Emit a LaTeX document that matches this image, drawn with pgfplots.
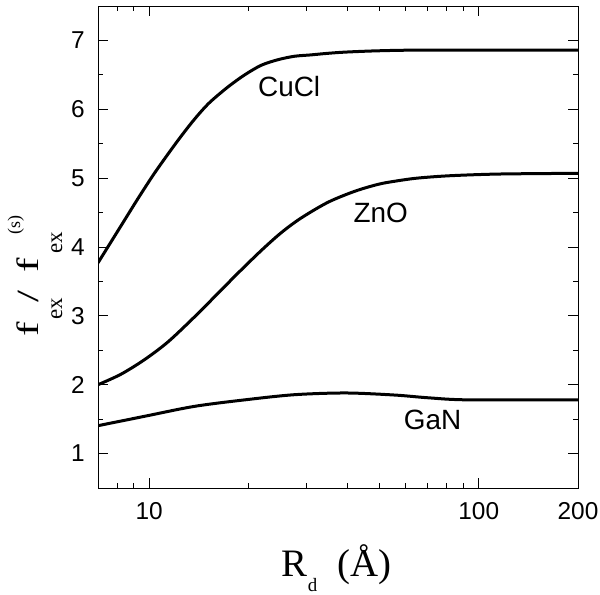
\documentclass[border=0pt]{standalone}
\usepackage{fontspec}
\setmainfont{Liberation Sans}
\newfontfamily\serif{Liberation Serif}
\usepackage{graphicx}
\usepackage{pgfplots}
\pgfplotsset{compat=1.18}

% y label, built piece by piece (Origin-style offsets)
\newcommand{\ylab}{\serif\fontsize{31}{31}\selectfont
\makebox[17bp][l]{\scalebox{1.4}[1]{f}}%
\makebox[17bp][l]{\raisebox{-24bp}{\fontsize{23}{23}\selectfont ex}}%
\makebox[30bp][l]{\scalebox{1.4}[1]{/}}%
\makebox[19bp][l]{\scalebox{1.4}[1]{f}}%
\makebox[19bp][l]{\raisebox{-24bp}{\fontsize{23}{23}\selectfont ex}}%
\raisebox{18bp}{\fontsize{18}{18}\selectfont (s)}}

\newcommand{\xlab}{\serif\fontsize{39}{39}\selectfont
R\raisebox{-15bp}{\fontsize{19}{19}\selectfont d}\kern20bp(Å)}

\begin{document}
\begin{tikzpicture}
\begin{axis}[
    scale only axis,
    width=480bp, height=482bp,
    xmode=log,
    xmin=7, xmax=200,
    ymin=0.5, ymax=7.5,
    xtick={10,100,200},
    xticklabels={10,100,200},
    minor xtick={8,9,20,30,40,50,60,70,80,90},
    ytick={1,2,3,4,5,6,7},
    minor ytick={0.5,1.5,2.5,3.5,4.5,5.5,6.5,7.5},
    major tick length=10bp,
    minor tick length=5bp,
    tick align=inside,
    axis line style={line width=1bp},
    every tick/.style={line width=1bp, black},
    tick label style={font=\fontsize{24.5}{28}\selectfont},
    /pgf/number format/assume math mode=true,
    yticklabel style={inner sep=0pt, xshift=-13bp},
    xticklabel style={inner sep=0pt, yshift=-14bp},
    xlabel={\xlab},
    xlabel style={at={(axis description cs:0.497,-0.1826)}, anchor=base},
    ylabel={\ylab},
    ylabel style={at={(axis description cs:-0.125,0.3133)}, anchor=base west, inner sep=0pt},
  ]
  \addplot[black, line width=3bp, smooth] coordinates {
    (7,3.77) (8.3,4.34) (9.3,4.72) (10.48,5.10) (12.2,5.54) (13.7,5.85)
    (15.2,6.09) (17.3,6.32) (19.5,6.50) (21.9,6.64) (24.6,6.72) (27.6,6.77)
    (31.0,6.79) (34.3,6.81) (39.2,6.83) (50,6.85) (70,6.86) (200,6.86)
  };
  \addplot[black, line width=3bp, smooth] coordinates {
    (7,2.0) (8.2,2.15) (9.66,2.36) (11.4,2.62) (13.7,2.98) (16.2,3.33)
    (18.6,3.62) (21.9,3.95) (25.2,4.21) (28.9,4.42) (34.9,4.65) (42.1,4.81)
    (49.5,4.91) (55.6,4.955) (65,5.0) (81.8,5.035) (116,5.06) (200,5.07)
  };
  \addplot[black, line width=3bp, smooth] coordinates {
    (7,1.405) (9.66,1.54) (13.7,1.685) (19.5,1.78) (27.6,1.855) (39.5,1.88)
    (55.6,1.85) (70.3,1.81) (92.9,1.78) (200,1.78)
  };
  \node[font=\fontsize{28}{28}\selectfont] at (axis cs:26.6,6.325) {CuCl};
  \node[font=\fontsize{28}{28}\selectfont] at (axis cs:50.4,4.49) {ZnO};
  \node[font=\fontsize{28}{28}\selectfont] at (axis cs:72.4,1.49) {GaN};
\end{axis}
\path (-98bp,-104bp) rectangle (502bp,488bp);
\end{tikzpicture}
\end{document}
